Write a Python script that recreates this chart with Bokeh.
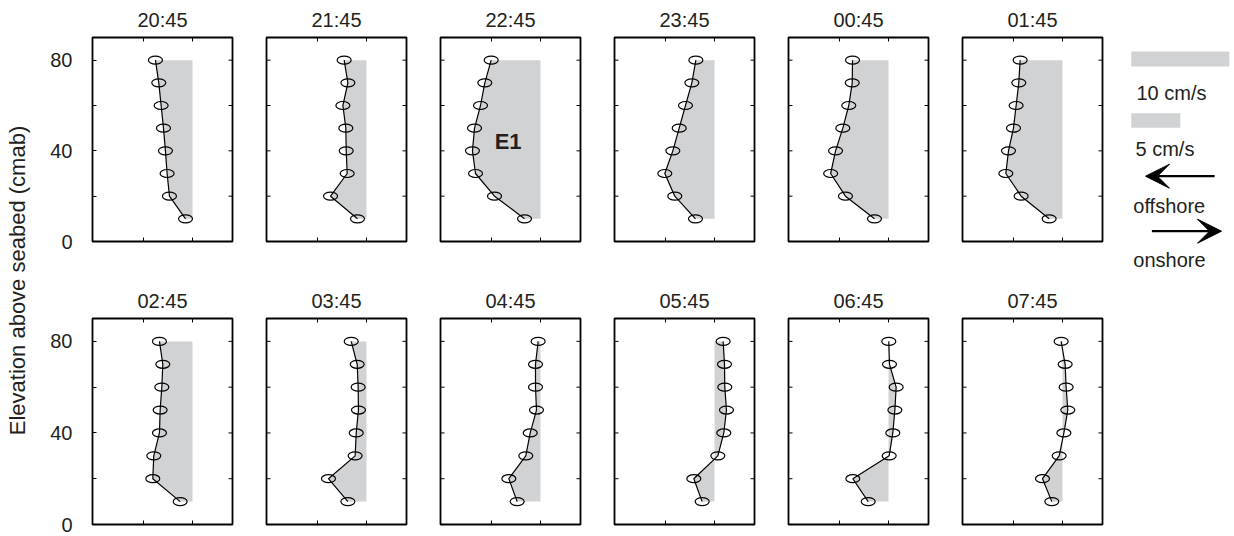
import math
from bokeh.plotting import figure
from bokeh.layouts import row, column
from bokeh.models import (Range1d, FixedTicker, LinearAxis, ColumnDataSource,
                          Arrow, VeeHead)
from bokeh.core.properties import value
from bokeh.embed import file_html
from bokeh.resources import INLINE

# ---------------- data ----------------
times = ["20:45", "21:45", "22:45", "23:45", "00:45", "01:45",
         "02:45", "03:45", "04:45", "05:45", "06:45", "07:45"]
z = [10, 20, 30, 40, 50, 60, 70, 80]  # elevation above seabed (cmab)

# cross-shore velocity (cm/s), negative = offshore, listed from z=10 up to z=80
u_2045 = [-0.71, -2.35, -2.59, -2.76, -2.96, -3.20, -3.44, -3.78]
u_2145 = [-0.92, -3.67, -1.97, -2.07, -2.11, -2.41, -1.90, -2.28]
u_2245 = [-1.63, -4.69, -6.63, -6.94, -6.73, -6.12, -5.68, -5.03]
u_2345 = [-1.94, -4.05, -5.07, -4.25, -3.60, -2.96, -2.31, -1.90]
u_0045 = [-1.43, -4.39, -5.90, -5.40, -4.66, -4.05, -3.70, -3.67]
u_0145 = [-1.36, -4.22, -5.78, -5.51, -5.00, -4.73, -4.46, -4.32]
u_0245 = [-1.26, -4.05, -3.95, -3.37, -3.30, -3.13, -3.03, -3.37]
u_0345 = [-1.90, -3.88, -1.16, -1.05, -0.82, -0.85, -0.95, -1.56]
u_0445 = [-2.38, -3.23, -1.50, -1.05, -0.41, -0.51, -0.51, -0.24]
u_0545 = [-1.26, -2.11, 0.34, 0.95, 1.22, 1.05, 1.02, 0.88]
u_0645 = [-2.07, -3.64, 0.07, 0.44, 0.65, 0.78, 0.10, 0.03]
u_0745 = [-1.09, -2.04, -0.34, 0.14, 0.54, 0.37, 0.27, -0.14]

profiles = [u_2045, u_2145, u_2245, u_2345, u_0045, u_0145,
            u_0245, u_0345, u_0445, u_0545, u_0645, u_0745]

y_ticks = [0, 40, 80]
y_minor = [20, 60]
x_ticks = [-5, 0]
scale_bars = [10, 5]          # cm/s
scale_labels = ["10 cm/s", "5 cm/s"]

# ---------------- style ----------------
FONT = "Liberation Sans"
TXT = "#231f20"
GRAY = "#d1d2d4"
XR = (-10.2, 4.08)
YR = (0, 90)
TICK = 4
W_TOTAL, H_TOTAL = 1234, 536
W_LABEL = 42


def panel(i, r, c):
    first = (c == 0)
    w = 207 if first else 174
    if r == 0:
        h, bt, bb = 279, 36, 38
    else:
        h, bt, bb = H_TOTAL - 279, 39, 12
    p = figure(width=w, height=h, x_range=Range1d(*XR), y_range=Range1d(*YR),
               output_backend="svg", toolbar_location=None, title=times[i],
               min_border_left=50 if first else 17, min_border_right=17,
               min_border_top=bt, min_border_bottom=bb,
               x_axis_location=None, y_axis_location=None)
    p.title.align = "center"
    p.title.text_font = FONT
    p.title.text_font_size = "20px"
    p.title.text_font_style = "normal"
    p.title.text_color = TXT
    p.title.standoff = 13
    p.grid.visible = False
    p.outline_line_color = "black"
    p.outline_line_width = 1.8
    p.outline_line_alpha = 1
    p.background_fill_color = "white"
    p.border_fill_color = "white"

    # tick marks pointing inwards on all four sides
    yt_all = sorted(y_ticks + y_minor)
    if first:
        left = LinearAxis(ticker=FixedTicker(ticks=y_ticks, minor_ticks=y_minor))
        left.axis_line_color = None
        left.major_tick_in = TICK
        left.major_tick_out = 0
        left.minor_tick_in = TICK
        left.minor_tick_out = 0
        left.major_tick_line_color = "black"
        left.minor_tick_line_color = "black"
        left.major_label_text_font = FONT
        left.major_label_text_font_size = "20px"
        left.major_label_text_color = TXT
        left.major_label_standoff = 20
        p.add_layout(left, "left")
    else:
        p.ray(x=[XR[0]] * len(yt_all), y=yt_all, length=TICK, length_units="screen",
              angle=0, line_color="black", line_width=1)
    p.ray(x=[XR[1]] * len(yt_all), y=yt_all, length=TICK, length_units="screen",
          angle=math.pi, line_color="black", line_width=1)
    p.ray(x=x_ticks, y=[YR[0]] * len(x_ticks), length=TICK, length_units="screen",
          angle=math.pi / 2, line_color="black", line_width=1)
    p.ray(x=x_ticks, y=[YR[1]] * len(x_ticks), length=TICK, length_units="screen",
          angle=-math.pi / 2, line_color="black", line_width=1)

    u = profiles[i]
    src = ColumnDataSource(dict(z=z, u=u, zero=[0] * len(z)))
    p.harea(y="z", x1="u", x2="zero", source=src, fill_color=GRAY, fill_alpha=1)
    p.line(x="u", y="z", source=src, line_color="black", line_width=1.2)
    p.ellipse(x="u", y="z", source=src, width=14, height=8,
              width_units="screen", height_units="screen",
              fill_color=None, line_color="black", line_width=1.2)
    if times[i] == "22:45":
        p.text(x=[-3.3], y=[44.3], text=["E1"], text_font=value(FONT),
               text_font_size="22px", text_font_style="bold", text_color=TXT,
               text_align="center", text_baseline="middle")
    return p


rows = []
for r in range(2):
    figs = [panel(r * 6 + c, r, c) for c in range(6)]
    rows.append(row(*figs, spacing=0))
grid = column(*rows, spacing=0)

# y-axis label (coordinates of this strip are its own pixels)
yl = figure(width=W_LABEL, height=H_TOTAL, x_range=Range1d(0, W_LABEL),
            y_range=Range1d(H_TOTAL, 0),
            output_backend="svg", toolbar_location=None, min_border=0,
            x_axis_location=None, y_axis_location=None)
yl.outline_line_color = None
yl.grid.visible = False
yl.text(x=[17], y=[280], text=["Elevation above seabed (cmab)"],
        text_font=value(FONT), text_font_size="22px", text_color=TXT,
        angle=math.pi / 2, text_align="center", text_baseline="middle")

# legend / scale panel (x in cm/s at the same scale as the panels)
px_per_unit = 140 / (XR[1] - XR[0])
LW = W_TOTAL - W_LABEL - 207 - 5 * 174
x0 = -11.8 / px_per_unit
lg = figure(width=LW, height=H_TOTAL,
            x_range=Range1d(x0, x0 + LW / px_per_unit), y_range=Range1d(H_TOTAL, 0),
            output_backend="svg", toolbar_location=None, min_border=0,
            x_axis_location=None, y_axis_location=None)
lg.outline_line_color = None
lg.grid.visible = False
lg.hbar(y=[58.5, 120], left=[0, 0], right=scale_bars, height=[15, 14.5],
        fill_color=GRAY, line_color=None)
lg.text(x=[0.53, 0.43], y=[92, 148], text=scale_labels, text_font=value(FONT),
        text_font_size="20px", text_color=TXT, text_align="left",
        text_baseline="middle")
lg.add_layout(Arrow(x_start=8.5, y_start=175.7, x_end=1.45, y_end=175.7,
                    line_width=2.2, line_color="black",
                    end=VeeHead(size=24, fill_color="black", line_color="black")))
lg.add_layout(Arrow(x_start=2.1, y_start=230.7, x_end=9.2, y_end=230.7,
                    line_width=2.2, line_color="black",
                    end=VeeHead(size=24, fill_color="black", line_color="black")))
lg.text(x=[0.2, 0.2], y=[205.5, 259], text=["offshore", "onshore"],
        text_font=value(FONT), text_font_size="20px", text_color=TXT,
        text_align="left", text_baseline="middle")

layout = row(yl, grid, lg, spacing=0)
open("out.html", "w").write(file_html(layout, INLINE))
